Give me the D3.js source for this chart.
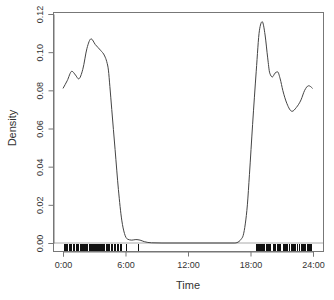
<!DOCTYPE html>
<html>
<head>
<meta charset="utf-8">
<title>Density</title>
<script src="https://d3js.org/d3.v7.min.js"></script>
<style>
	body { margin: 0; background: #fff; }
	svg text { font-family: "Liberation Sans", Arial, sans-serif; fill: #333; }
</style>
</head>
<body>
<div id="chart"></div>
<script>
// density curve: hour of day, density
var hours = [0.0, 0.4, 0.85, 1.2, 1.5, 1.9, 2.3, 2.7, 3.1, 3.6, 4.0, 4.2, 4.36, 4.5, 4.68, 5.0, 5.32, 5.64, 5.9, 6.2, 6.6, 7.0, 7.4, 7.8, 8.5, 9.5, 12, 16.5, 16.9, 17.1, 17.3, 17.5, 17.7, 17.9, 18.2, 18.55, 18.86, 19.12, 19.4, 19.65, 19.85, 20.1, 20.35, 20.6, 20.85, 21.1, 21.5, 21.99, 22.4, 22.85, 23.2, 23.58, 23.96];
var density = [0.081, 0.085, 0.090, 0.088, 0.086, 0.091, 0.102, 0.107, 0.104, 0.101, 0.098, 0.095, 0.0906, 0.082, 0.070, 0.049, 0.028, 0.012, 0.005, 0.002, 0.0015, 0.0018, 0.0015, 0.0007, 0.0001, 0, 0, 0, 0.0008, 0.002, 0.004, 0.010, 0.020, 0.036, 0.062, 0.090, 0.1115, 0.116, 0.109, 0.097, 0.089, 0.087, 0.089, 0.0897, 0.086, 0.080, 0.073, 0.069, 0.071, 0.075, 0.080, 0.0824, 0.081];

// observations shown in the rug
var rugHours = [0.05, 0.15, 0.3, 0.42, 0.55, 0.7, 0.8, 0.95, 1.05, 1.2, 1.35, 1.45, 1.6, 1.7, 1.85, 1.95, 2.05, 2.15, 2.25, 2.35, 2.45, 2.55, 2.65, 2.75, 2.85, 2.95, 3.05, 3.15, 3.25, 3.35, 3.45, 3.55, 3.65, 3.75, 3.85, 3.95, 4.1, 4.2, 4.35, 4.45, 4.6, 4.75, 4.85, 5.0, 5.15, 5.3, 5.45, 5.6, 6.05, 7.2,
	18.5, 18.6, 18.7, 18.78, 18.9, 19.0, 19.1, 19.2, 19.3, 19.45, 19.55, 19.65, 19.75, 19.9, 20.15, 20.25, 20.35, 20.5, 20.6, 20.7, 20.8, 21.1, 21.2, 21.3, 21.45, 21.55, 21.7, 21.9, 22.0, 22.1, 22.2, 22.3, 22.45, 22.7, 22.8, 22.9, 23.0, 23.1, 23.25, 23.4, 23.5, 23.6, 23.7, 23.8];

var xTicks = [0, 6, 12, 18, 24];
var xTickLabels = ["0:00", "6:00", "12:00", "18:00", "24:00"];
var yTicks = [0, 0.02, 0.04, 0.06, 0.08, 0.10, 0.12];

var width = 334, height = 300;
var box = {left: 53, right: 323, top: 12, bottom: 251};

var svg = d3.select("#chart").append("svg")
	.attr("width", width)
	.attr("height", height);

var x = d3.scaleLinear().domain([0, 24]).range([63, 313]);
var y = d3.scaleLinear().domain([0, 0.12]).range([243, 14]);

// zero line
svg.append("line")
	.attr("x1", box.left).attr("x2", box.right)
	.attr("y1", y(0)).attr("y2", y(0))
	.attr("stroke", "#aaa").attr("stroke-width", 1);

// rug
svg.append("g").selectAll("line")
	.data(rugHours)
	.enter().append("line")
	.attr("x1", function(d) { return Math.round(x(d)) + 0.5; })
	.attr("x2", function(d) { return Math.round(x(d)) + 0.5; })
	.attr("y1", 244).attr("y2", 251)
	.attr("stroke", "#111")
	.attr("stroke-width", 1)
	.attr("shape-rendering", "crispEdges");

// density curve
var pts = hours.map(function(h, i) { return [h, density[i]]; });
var line = d3.line()
	.x(function(d) { return x(d[0]); })
	.y(function(d) { return y(d[1]); })
	.curve(d3.curveMonotoneX);
svg.append("path")
	.datum(pts)
	.attr("d", line)
	.attr("fill", "none")
	.attr("stroke", "#444")
	.attr("stroke-width", 1);

// box
svg.append("rect")
	.attr("x", box.left + 0.5).attr("y", box.top + 0.5)
	.attr("width", box.right - box.left).attr("height", box.bottom - box.top)
	.attr("fill", "none")
	.attr("stroke", "#777");

// x axis
var xAxis = d3.axisBottom(x)
	.tickValues(xTicks)
	.tickFormat(function(d, i) { return xTickLabels[i]; })
	.tickSize(5)
	.tickPadding(5);
var gx = svg.append("g")
	.attr("transform", "translate(0," + (box.bottom + 0.5) + ")")
	.call(xAxis);
gx.select(".domain").attr("stroke", "#777");
gx.selectAll(".tick line").attr("stroke", "#777");
gx.selectAll("text").attr("font-size", 9).style("fill", "#333");

// y axis with rotated labels
var yAxis = d3.axisLeft(y)
	.tickValues(yTicks)
	.tickFormat(d3.format(".2f"))
	.tickSize(5);
var gy = svg.append("g")
	.attr("transform", "translate(" + (box.left + 0.5) + ",0)")
	.call(yAxis);
gy.select(".domain").attr("stroke", "#777");
gy.selectAll(".tick line").attr("stroke", "#777");
gy.selectAll("text")
	.attr("font-size", 9)
	.style("fill", "#333")
	.attr("x", null).attr("dy", null)
	.attr("text-anchor", "middle")
	.attr("transform", "translate(-11,0) rotate(-90)");

// axis titles
svg.append("text")
	.attr("x", 188).attr("y", 289)
	.attr("text-anchor", "middle")
	.attr("font-size", 11)
	.text("Time");
svg.append("text")
	.attr("transform", "translate(16,128) rotate(-90)")
	.attr("text-anchor", "middle")
	.attr("font-size", 11)
	.text("Density");
</script>
</body>
</html>
